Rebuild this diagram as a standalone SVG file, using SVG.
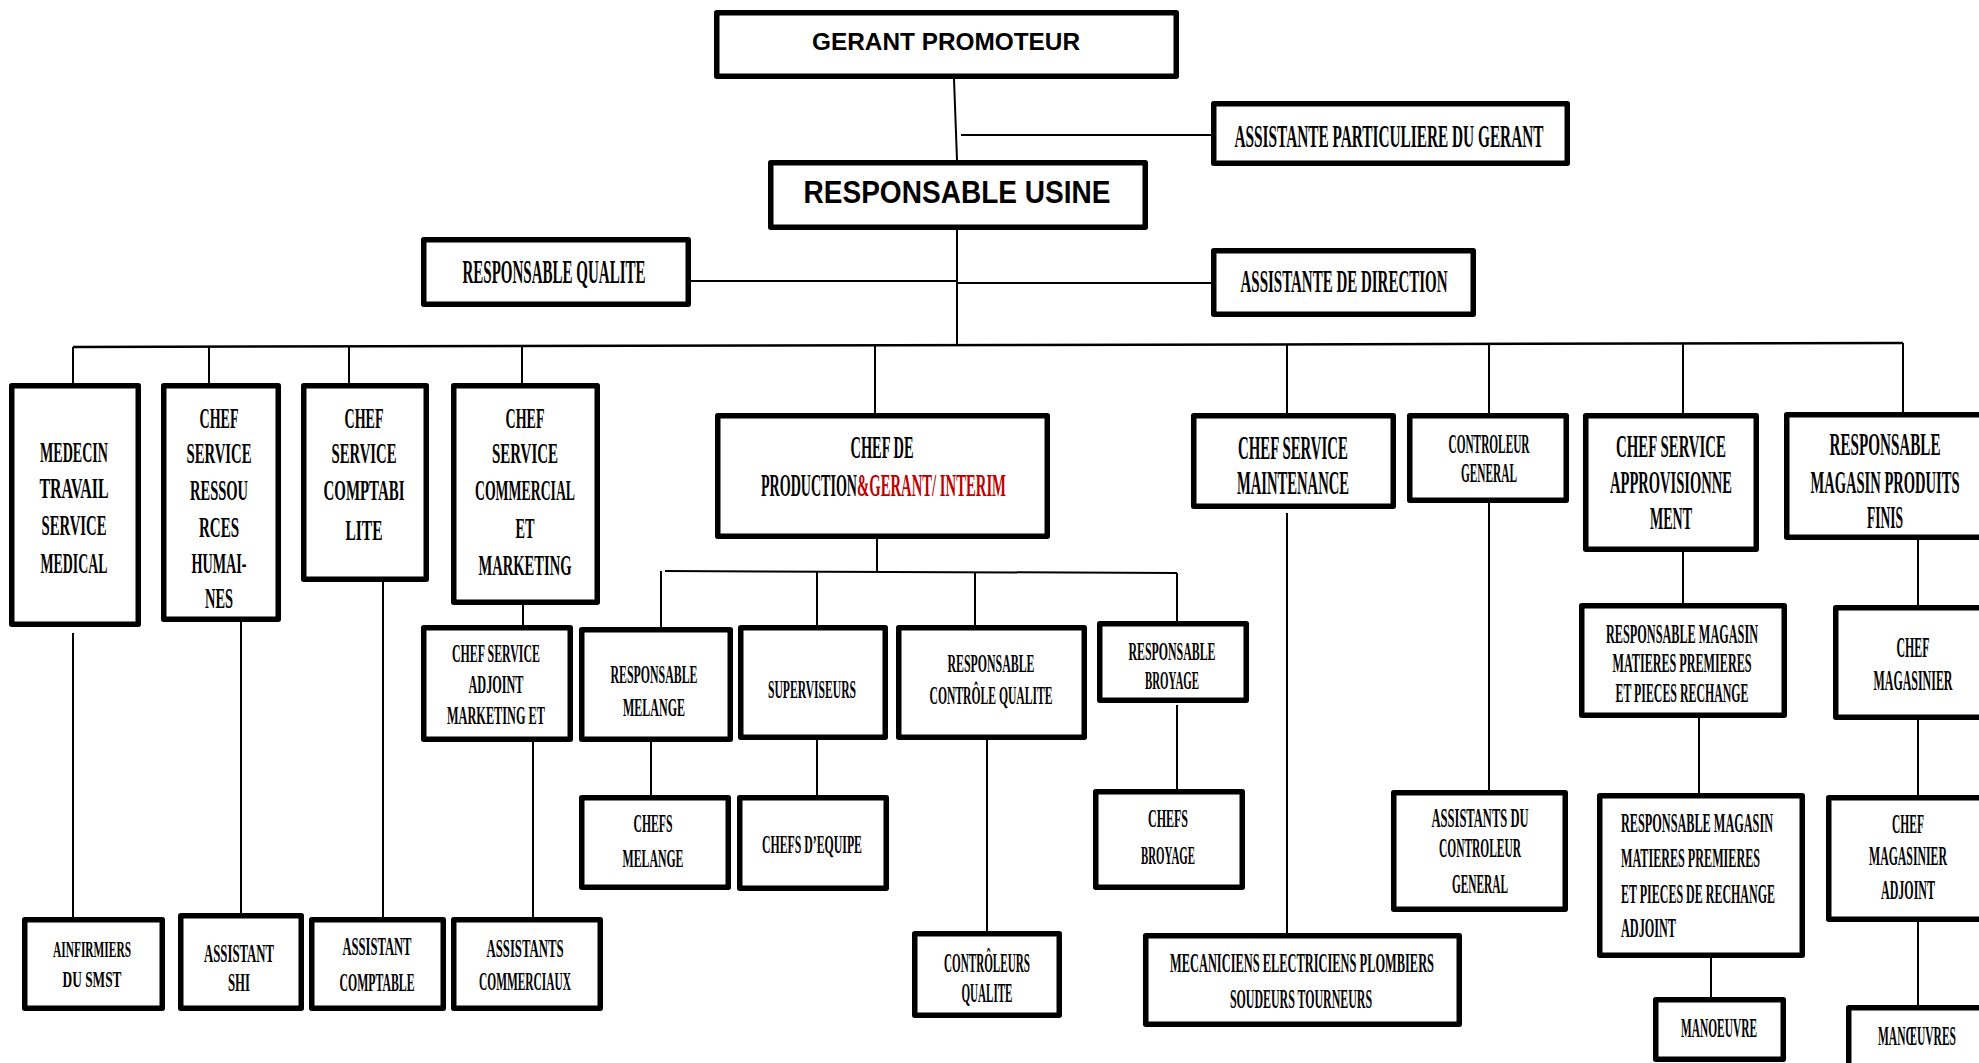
<svg xmlns="http://www.w3.org/2000/svg" width="1979" height="1063" viewBox="0 0 1979 1063">
<style>
.b{fill:#fff;stroke:#000;stroke-width:5.5;stroke-linejoin:round}
.c line{stroke:#000;stroke-width:2}
.c .m{stroke-width:2.5}
text{font-family:"Liberation Serif","Times New Roman",serif;font-weight:bold;text-anchor:middle;fill:#000}
.s{font-family:"Liberation Sans",Arial,sans-serif}
.l{text-anchor:start}
.r{fill:#c00000}
</style>
<rect width="1979" height="1063" fill="#fff"/>
<g class="c" id="connectors">
<line x1="954" y1="79" x2="957" y2="160"/>
<line x1="961" y1="135" x2="1211" y2="135"/>
<line x1="957" y1="230" x2="957" y2="345"/>
<line x1="691" y1="281" x2="957" y2="281"/>
<line x1="957" y1="283" x2="1211" y2="283"/>
<line class="m" x1="73" y1="347" x2="1903" y2="343"/>
<line x1="73" y1="347" x2="73" y2="383"/>
<line x1="209" y1="346" x2="209" y2="383"/>
<line x1="349" y1="346" x2="349" y2="383"/>
<line x1="522" y1="346" x2="522" y2="383"/>
<line x1="875" y1="345" x2="875" y2="413"/>
<line x1="1287" y1="344" x2="1287" y2="413"/>
<line x1="1489" y1="343" x2="1489" y2="413"/>
<line x1="1683" y1="343" x2="1683" y2="413"/>
<line x1="1903" y1="343" x2="1903" y2="412"/>
<line x1="73" y1="633" x2="73" y2="917"/>
<line x1="241" y1="622" x2="241" y2="913"/>
<line x1="383" y1="582" x2="383" y2="917"/>
<line x1="523" y1="605" x2="523" y2="625"/>
<line x1="533" y1="742" x2="533" y2="917"/>
<line x1="877" y1="509" x2="877" y2="571"/>
<line x1="665" y1="571" x2="1177" y2="573"/>
<line x1="661" y1="571" x2="661" y2="627"/>
<line x1="817" y1="572" x2="817" y2="625"/>
<line x1="975" y1="572" x2="975" y2="625"/>
<line x1="1177" y1="573" x2="1177" y2="621"/>
<line x1="651" y1="742" x2="651" y2="795"/>
<line x1="817" y1="740" x2="817" y2="795"/>
<line x1="987" y1="740" x2="987" y2="931"/>
<line x1="1177" y1="705" x2="1177" y2="789"/>
<line x1="1287" y1="513" x2="1287" y2="933"/>
<line x1="1489" y1="503" x2="1489" y2="790"/>
<line x1="1683" y1="552" x2="1683" y2="603"/>
<line x1="1699" y1="718" x2="1699" y2="793"/>
<line x1="1711" y1="958" x2="1711" y2="997"/>
<line x1="1918" y1="540" x2="1918" y2="605"/>
<line x1="1918" y1="720" x2="1918" y2="795"/>
<line x1="1918" y1="922" x2="1918" y2="1005"/>
</g>
<g id="gp"><rect class="b" x="716.75" y="12.75" width="459.5" height="63.5"/>
<text class="s" x="946" y="50" font-size="24" textLength="268" lengthAdjust="spacingAndGlyphs">GERANT PROMOTEUR</text></g>
<g id="apg"><rect class="b" x="1213.75" y="103.75" width="353.5" height="59.5"/>
<text x="1389" y="147" font-size="32" textLength="309" lengthAdjust="spacingAndGlyphs">ASSISTANTE PARTICULIERE DU GERANT</text></g>
<g id="ru"><rect class="b" x="770.75" y="162.75" width="374.5" height="64.5"/>
<text class="s" x="957" y="203" font-size="32" textLength="307" lengthAdjust="spacingAndGlyphs">RESPONSABLE  USINE</text></g>
<g id="rq"><rect class="b" x="423.75" y="239.75" width="264.5" height="64.5"/>
<text x="554" y="283" font-size="34" textLength="183" lengthAdjust="spacingAndGlyphs">RESPONSABLE QUALITE</text></g>
<g id="add"><rect class="b" x="1213.75" y="250.75" width="259.5" height="63.5"/>
<text x="1344" y="292" font-size="32" textLength="207" lengthAdjust="spacingAndGlyphs">ASSISTANTE DE DIRECTION</text></g>
<g id="med"><rect class="b" x="11.75" y="385.75" width="126.5" height="238.5"/>
<text x="74" y="462" font-size="30" textLength="68" lengthAdjust="spacingAndGlyphs">MEDECIN</text>
<text x="74" y="498" font-size="30" textLength="69" lengthAdjust="spacingAndGlyphs">TRAVAIL</text>
<text x="74" y="535" font-size="30" textLength="65" lengthAdjust="spacingAndGlyphs">SERVICE</text>
<text x="74" y="573" font-size="30" textLength="67" lengthAdjust="spacingAndGlyphs">MEDICAL</text></g>
<g id="csrh"><rect class="b" x="163.75" y="385.75" width="114.5" height="233.5"/>
<text x="219" y="428" font-size="30" textLength="39" lengthAdjust="spacingAndGlyphs">CHEF</text>
<text x="219" y="463" font-size="30" textLength="65" lengthAdjust="spacingAndGlyphs">SERVICE</text>
<text x="219" y="500" font-size="30" textLength="58" lengthAdjust="spacingAndGlyphs">RESSOU</text>
<text x="219" y="537" font-size="30" textLength="40" lengthAdjust="spacingAndGlyphs">RCES</text>
<text x="219" y="573" font-size="30" textLength="55" lengthAdjust="spacingAndGlyphs">HUMAI-</text>
<text x="219" y="608" font-size="30" textLength="28" lengthAdjust="spacingAndGlyphs">NES</text></g>
<g id="csc"><rect class="b" x="303.75" y="385.75" width="122.5" height="193.5"/>
<text x="364" y="428" font-size="30" textLength="39" lengthAdjust="spacingAndGlyphs">CHEF</text>
<text x="364" y="463" font-size="30" textLength="65" lengthAdjust="spacingAndGlyphs">SERVICE</text>
<text x="364" y="500" font-size="30" textLength="81" lengthAdjust="spacingAndGlyphs">COMPTABI</text>
<text x="364" y="540" font-size="30" textLength="37" lengthAdjust="spacingAndGlyphs">LITE</text></g>
<g id="cscm"><rect class="b" x="453.75" y="385.75" width="143.5" height="216.5"/>
<text x="525" y="428" font-size="30" textLength="39" lengthAdjust="spacingAndGlyphs">CHEF</text>
<text x="525" y="463" font-size="30" textLength="66" lengthAdjust="spacingAndGlyphs">SERVICE</text>
<text x="525" y="500" font-size="30" textLength="100" lengthAdjust="spacingAndGlyphs">COMMERCIAL</text>
<text x="525" y="538" font-size="30" textLength="19" lengthAdjust="spacingAndGlyphs">ET</text>
<text x="525" y="575" font-size="30" textLength="93" lengthAdjust="spacingAndGlyphs">MARKETING</text></g>
<g id="cdp"><rect class="b" x="717.75" y="415.75" width="329.5" height="120.5"/>
<text x="882" y="458" font-size="31" textLength="63" lengthAdjust="spacingAndGlyphs">CHEF DE</text>
<text class="l" x="761" y="496" font-size="31" textLength="96" lengthAdjust="spacingAndGlyphs">PRODUCTION</text>
<text class="l r" x="857" y="496" font-size="31" textLength="149" lengthAdjust="spacingAndGlyphs">&amp;GERANT/ INTERIM</text></g>
<g id="csm"><rect class="b" x="1193.75" y="415.75" width="199.5" height="90.5"/>
<text x="1293" y="459" font-size="34" textLength="110" lengthAdjust="spacingAndGlyphs">CHEF SERVICE</text>
<text x="1293" y="494" font-size="34" textLength="112" lengthAdjust="spacingAndGlyphs">MAINTENANCE</text></g>
<g id="cg"><rect class="b" x="1409.75" y="415.75" width="156.5" height="84.5"/>
<text x="1489" y="453" font-size="27" textLength="81" lengthAdjust="spacingAndGlyphs">CONTROLEUR</text>
<text x="1489" y="482" font-size="27" textLength="56" lengthAdjust="spacingAndGlyphs">GENERAL</text></g>
<g id="csa"><rect class="b" x="1585.75" y="415.75" width="170.5" height="133.5"/>
<text x="1671" y="457" font-size="32" textLength="110" lengthAdjust="spacingAndGlyphs">CHEF SERVICE</text>
<text x="1671" y="493" font-size="32" textLength="122" lengthAdjust="spacingAndGlyphs">APPROVISIONNE</text>
<text x="1671" y="529" font-size="32" textLength="42" lengthAdjust="spacingAndGlyphs">MENT</text></g>
<g id="rmpf"><rect class="b" x="1786.75" y="414.75" width="205.5" height="122.5"/>
<text x="1885" y="455" font-size="32" textLength="111" lengthAdjust="spacingAndGlyphs">RESPONSABLE</text>
<text x="1885" y="493" font-size="32" textLength="149" lengthAdjust="spacingAndGlyphs">MAGASIN PRODUITS</text>
<text x="1885" y="528" font-size="32" textLength="36" lengthAdjust="spacingAndGlyphs">FINIS</text></g>
<g id="csam"><rect class="b" x="423.75" y="627.75" width="146.5" height="111.5"/>
<text x="496" y="662" font-size="25" textLength="88" lengthAdjust="spacingAndGlyphs">CHEF  SERVICE</text>
<text x="496" y="693" font-size="25" textLength="55" lengthAdjust="spacingAndGlyphs">ADJOINT</text>
<text x="496" y="724" font-size="25" textLength="98" lengthAdjust="spacingAndGlyphs">MARKETING  ET</text></g>
<g id="rm"><rect class="b" x="581.75" y="629.75" width="148.5" height="109.5"/>
<text x="654" y="683" font-size="26" textLength="87" lengthAdjust="spacingAndGlyphs">RESPONSABLE</text>
<text x="654" y="716" font-size="26" textLength="62" lengthAdjust="spacingAndGlyphs">MELANGE</text></g>
<g id="sup"><rect class="b" x="740.75" y="627.75" width="144.5" height="109.5"/>
<text x="812" y="698" font-size="26" textLength="88" lengthAdjust="spacingAndGlyphs">SUPERVISEURS</text></g>
<g id="rcq"><rect class="b" x="898.75" y="627.75" width="185.5" height="109.5"/>
<text x="991" y="672" font-size="26" textLength="87" lengthAdjust="spacingAndGlyphs">RESPONSABLE</text>
<text x="991" y="704" font-size="26" textLength="123" lengthAdjust="spacingAndGlyphs">CONTRÔLE  QUALITE</text></g>
<g id="rb"><rect class="b" x="1099.75" y="623.75" width="146.5" height="76.5"/>
<text x="1172" y="660" font-size="26" textLength="87" lengthAdjust="spacingAndGlyphs">RESPONSABLE</text>
<text x="1172" y="689" font-size="26" textLength="54" lengthAdjust="spacingAndGlyphs">BROYAGE</text></g>
<g id="rmmp"><rect class="b" x="1581.75" y="605.75" width="202.5" height="109.5"/>
<text x="1682" y="643" font-size="27" textLength="152" lengthAdjust="spacingAndGlyphs">RESPONSABLE  MAGASIN</text>
<text x="1682" y="672" font-size="27" textLength="139" lengthAdjust="spacingAndGlyphs">MATIERES   PREMIERES</text>
<text x="1682" y="702" font-size="27" textLength="133" lengthAdjust="spacingAndGlyphs">ET PIECES RECHANGE</text></g>
<g id="cmag"><rect class="b" x="1835.75" y="607.75" width="160" height="109.5"/>
<text x="1913" y="657" font-size="30" textLength="33" lengthAdjust="spacingAndGlyphs">CHEF</text>
<text x="1913" y="690" font-size="30" textLength="79" lengthAdjust="spacingAndGlyphs">MAGASINIER</text></g>
<g id="chm"><rect class="b" x="581.75" y="797.75" width="146.5" height="89.5"/>
<text x="653" y="832" font-size="26" textLength="39" lengthAdjust="spacingAndGlyphs">CHEFS</text>
<text x="653" y="867" font-size="26" textLength="61" lengthAdjust="spacingAndGlyphs">MELANGE</text></g>
<g id="cde"><rect class="b" x="739.75" y="797.75" width="146.5" height="90.5"/>
<text x="812" y="853" font-size="26" textLength="100" lengthAdjust="spacingAndGlyphs">CHEFS D’EQUIPE</text></g>
<g id="cbr"><rect class="b" x="1095.75" y="791.75" width="146.5" height="95.5"/>
<text x="1168" y="827" font-size="26" textLength="40" lengthAdjust="spacingAndGlyphs">CHEFS</text>
<text x="1168" y="864" font-size="26" textLength="54" lengthAdjust="spacingAndGlyphs">BROYAGE</text></g>
<g id="adc"><rect class="b" x="1393.75" y="792.75" width="171.5" height="116.5"/>
<text x="1480" y="827" font-size="27" textLength="97" lengthAdjust="spacingAndGlyphs">ASSISTANTS DU</text>
<text x="1480" y="857" font-size="27" textLength="82" lengthAdjust="spacingAndGlyphs">CONTROLEUR</text>
<text x="1480" y="893" font-size="27" textLength="56" lengthAdjust="spacingAndGlyphs">GENERAL</text></g>
<g id="rmmpa"><rect class="b" x="1599.75" y="795.75" width="202.5" height="159.5"/>
<text class="l" x="1621" y="832" font-size="28" textLength="152" lengthAdjust="spacingAndGlyphs">RESPONSABLE  MAGASIN</text>
<text class="l" x="1621" y="867" font-size="28" textLength="139" lengthAdjust="spacingAndGlyphs">MATIERES   PREMIERES</text>
<text class="l" x="1621" y="903" font-size="28" textLength="154" lengthAdjust="spacingAndGlyphs">ET PIECES DE RECHANGE</text>
<text class="l" x="1621" y="937" font-size="28" textLength="55" lengthAdjust="spacingAndGlyphs">ADJOINT</text></g>
<g id="cma"><rect class="b" x="1828.75" y="797.75" width="170" height="121.5"/>
<text x="1908" y="833" font-size="28" textLength="32" lengthAdjust="spacingAndGlyphs">CHEF</text>
<text x="1908" y="865" font-size="28" textLength="78" lengthAdjust="spacingAndGlyphs">MAGASINIER</text>
<text x="1908" y="899" font-size="28" textLength="54" lengthAdjust="spacingAndGlyphs">ADJOINT</text></g>
<g id="inf"><rect class="b" x="24.75" y="919.75" width="137.5" height="88.5"/>
<text x="92" y="957" font-size="24" textLength="78" lengthAdjust="spacingAndGlyphs">AINFIRMIERS</text>
<text x="92" y="987" font-size="24" textLength="59" lengthAdjust="spacingAndGlyphs">DU SMST</text></g>
<g id="shi"><rect class="b" x="180.75" y="915.75" width="120.5" height="92.5"/>
<text x="239" y="962" font-size="26" textLength="70" lengthAdjust="spacingAndGlyphs">ASSISTANT</text>
<text x="239" y="991" font-size="26" textLength="22" lengthAdjust="spacingAndGlyphs">SHI</text></g>
<g id="acpt"><rect class="b" x="311.75" y="919.75" width="131.5" height="88.5"/>
<text x="377" y="955" font-size="26" textLength="69" lengthAdjust="spacingAndGlyphs">ASSISTANT</text>
<text x="377" y="991" font-size="26" textLength="75" lengthAdjust="spacingAndGlyphs">COMPTABLE</text></g>
<g id="acom"><rect class="b" x="453.75" y="919.75" width="146.5" height="88.5"/>
<text x="525" y="957" font-size="26" textLength="77" lengthAdjust="spacingAndGlyphs">ASSISTANTS</text>
<text x="525" y="990" font-size="26" textLength="92" lengthAdjust="spacingAndGlyphs">COMMERCIAUX</text></g>
<g id="cq"><rect class="b" x="914.75" y="933.75" width="144.5" height="81.5"/>
<text x="987" y="972" font-size="27" textLength="86" lengthAdjust="spacingAndGlyphs">CONTRÔLEURS</text>
<text x="987" y="1002" font-size="27" textLength="51" lengthAdjust="spacingAndGlyphs">QUALITE</text></g>
<g id="mec"><rect class="b" x="1145.75" y="935.75" width="313.5" height="88.5"/>
<text x="1302" y="972" font-size="27" textLength="264" lengthAdjust="spacingAndGlyphs">MECANICIENS ELECTRICIENS  PLOMBIERS</text>
<text x="1301" y="1008" font-size="27" textLength="142" lengthAdjust="spacingAndGlyphs">SOUDEURS   TOURNEURS</text></g>
<g id="man"><rect class="b" x="1655.75" y="999.75" width="127.5" height="59.5"/>
<text x="1719" y="1037" font-size="27" textLength="76" lengthAdjust="spacingAndGlyphs">MANOEUVRE</text></g>
<g id="mans"><rect class="b" x="1848.75" y="1007.75" width="160" height="70"/>
<text x="1917" y="1045" font-size="27" textLength="78" lengthAdjust="spacingAndGlyphs">MANŒUVRES</text></g>
</svg>
